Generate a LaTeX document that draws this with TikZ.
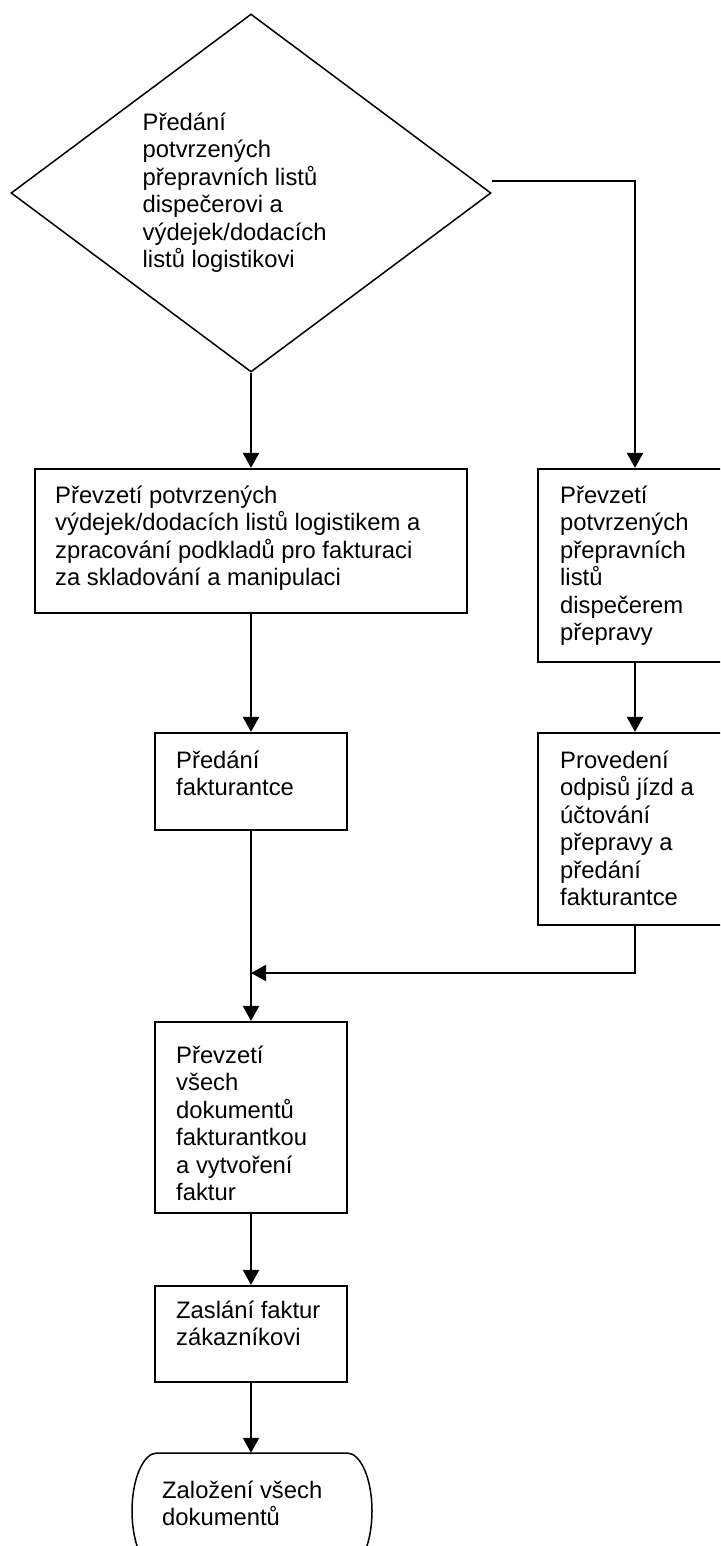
\documentclass[tikz,border=0pt]{standalone}
\usepackage{fontspec}
\setmainfont{Liberation Sans}
\usetikzlibrary{arrows.meta,shapes.geometric}
\begin{document}
\begin{tikzpicture}[x=1pt,y=-1pt,
  box/.style={draw, line width=2.2pt, inner sep=0pt, rectangle},
  lbl/.style={anchor=base west, inner sep=0pt, align=left, font=\fontsize{23.8pt}{27.5pt}\selectfont},
  conn/.style={line width=2pt, -{Triangle[length=15pt,width=16pt]}}
]
\useasboundingbox (0,0) rectangle (720,1546);
\clip (0,0) rectangle (720,1546);
% decision
\node[draw, diamond, line width=1.5pt, minimum width=480pt, minimum height=358pt, inner sep=0pt] (dec) at (251,193) {};
% boxes
\node[box, minimum width=432pt, minimum height=144pt] (b1) at (251,541) {};
\node[box, minimum width=194pt, minimum height=193pt] (b2) at (635,565.5) {};
\node[box, minimum width=192pt, minimum height=97pt] (b3) at (251,781.5) {};
\node[box, minimum width=194pt, minimum height=192pt] (b4) at (635,829) {};
\node[box, minimum width=192pt, minimum height=191pt] (b5) at (251,1117.5) {};
\node[box, minimum width=192pt, minimum height=96pt] (b6) at (251,1334) {};
% terminal
\node[minimum width=240pt, minimum height=116pt, inner sep=0pt] (term) at (252,1511) {};
\draw[line width=1.5pt] (157,1453) -- (347,1453) arc[start angle=-90,end angle=90,x radius=25,y radius=58] -- (157,1569) arc[start angle=90,end angle=270,x radius=25,y radius=58] -- cycle;
% texts (anchored at the baseline of the last line)
\node[lbl] (t0) at (142.5,268) {Předání\\potvrzených\\přepravních listů\\dispečerovi a\\výdejek/dodacích\\listů logistikovi};
\node[lbl] (t1) at (55,585.5) {Převzetí potvrzených\\výdejek/dodacích listů logistikem a\\zpracování podkladů pro fakturaci\\za skladování a manipulaci};
\node[lbl] (t2) at (560,640.5) {Převzetí\\potvrzených\\přepravních\\listů\\dispečerem\\přepravy};
\node[lbl] (t3) at (176,795.5) {Předání\\fakturantce};
\node[lbl] (t4) at (560,905.5) {Provedení\\odpisů jízd a\\účtování\\přepravy a\\předání\\fakturantce};
\node[lbl] (t5) at (176,1200.5) {Převzetí\\všech\\dokumentů\\fakturantkou\\a vytvoření\\faktur};
\node[lbl] (t6) at (176,1345.5) {Zaslání faktur\\zákazníkovi};
\node[lbl] (t7) at (162,1525.5) {Založení všech\\dokumentů};
% connectors
\coordinate (dr) at (492,181);
\coordinate (mj) at (251,973);
\draw[conn] (dec.south) -- (b1.north);
\draw[conn] (dr) -| (b2.north);
\draw[conn] (b1.south) -- (b3.north);
\draw[conn] (b2.south) -- (b4.north);
\draw[conn] (b4.south) |- (mj);
\draw[conn] (b3.south) -- (b5.north);
\draw[conn] (b5.south) -- (b6.north);
\draw[conn] (b6.south) -- (b6.south |- term.north);
\end{tikzpicture}
\end{document}
